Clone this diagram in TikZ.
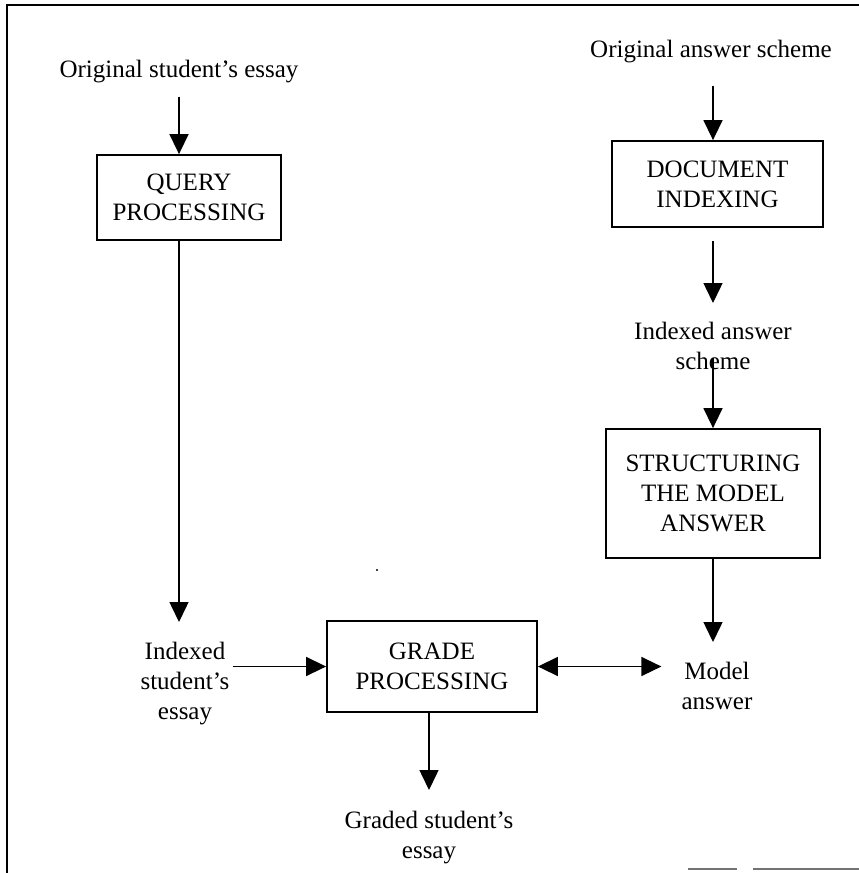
\documentclass[tikz,border=0pt]{standalone}
\usepackage{fontspec}
\setmainfont{Liberation Serif}
\usetikzlibrary{arrows.meta}
\begin{document}
\begin{tikzpicture}[x=1pt,y=-1pt,
  lbl/.style={inner sep=0pt, align=center, font=\fontsize{25}{30}\selectfont},
  box/.style={draw, line width=1.8pt, inner sep=0pt, align=center, font=\fontsize{25}{30}\selectfont},
  arr/.style={line width=1.5pt, -{Triangle[length=20pt,width=19pt]}},
  dbl/.style={line width=1.5pt, {Triangle[length=20pt,width=19pt]}-{Triangle[length=20pt,width=19pt]}},
  frameline/.style={line width=2pt},
  scanline/.style={line width=1.6pt, draw=black!55}]
\useasboundingbox (0,0) rectangle (859,873);
% frame
\coordinate (ftl) at (7,5);
\coordinate (ftr) at (859,5);
\coordinate (fbl) at (7,873);
\draw[frameline] (ftr) -- (ftl) -- (fbl);
\coordinate (s1a) at (688,869);
\coordinate (s1b) at (737,869);
\coordinate (s2a) at (753,869);
\coordinate (s2b) at (859,869);
\draw[scanline] (s1a) -- (s1b);
\draw[scanline] (s2a) -- (s2b);
% labels
\node[lbl] (ose) at (179,72) {Original student’s essay};
\node[lbl] (oas) at (711,52) {Original answer scheme};
\node[lbl, anchor=north] (ias) at (713,322) {Indexed answer\\scheme};
\node[lbl, anchor=north] (ma) at (717,662) {Model\\answer};
\node[lbl, anchor=north] (ise) at (185,642) {Indexed\\student’s\\essay};
\node[lbl, anchor=north] (gse) at (429,811) {Graded student’s\\essay};
% boxes
\node[box, minimum width=184pt, minimum height=85pt] (qp) at (189,197.5) {QUERY\\PROCESSING};
\node[box, minimum width=211pt, minimum height=86pt] (doc) at (717.5,184) {DOCUMENT\\INDEXING};
\node[box, minimum width=214pt, minimum height=129pt] (stm) at (713,493.5) {STRUCTURING\\THE MODEL\\ANSWER};
\node[box, minimum width=210pt, minimum height=91pt] (gp) at (432,666.5) {GRADE\\PROCESSING};
% stray dot
\fill (377,570) circle (1.1pt);
% connectors
\draw[arr, shorten <=13pt] (ose.south) -- (ose.south |- qp.north);
\draw[arr, shorten <=22pt] (oas.south -| ias.north) -- (ias.north |- doc.north);
\draw[arr, shorten <=13pt, shorten >=19pt] (doc.south -| ias.north) -- (ias.north);
\draw[arr, shorten <=-12pt] (ias.south) -- (ias.south |- stm.north);
\draw[arr, shorten >=20pt] (stm.south -| ias.north) -- (ias.north |- ma.north);
\draw[dbl, shorten >=20pt] (gp.east) -- (gp.east -| ma.west);
\draw[arr, shorten >=20pt] (qp.south -| ose.south) -- (ose.south |- ise.north);
\draw[arr, shorten <=3pt] (gp.west -| ise.east) -- (gp.west);
\draw[arr, shorten >=21pt] (gp.south -| gse.north) -- (gse.north);
\end{tikzpicture}
\end{document}
